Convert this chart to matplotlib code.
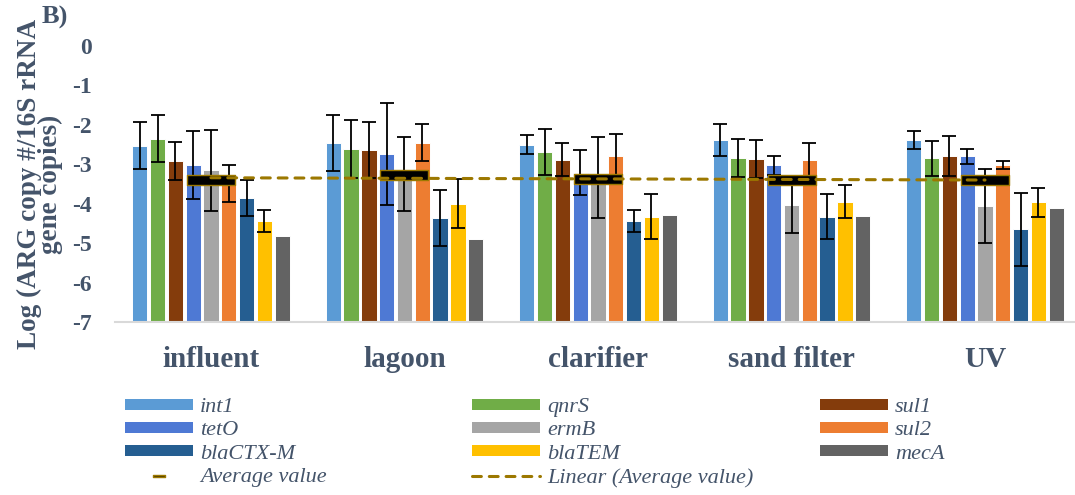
import numpy as np
import matplotlib
matplotlib.use("Agg")
import matplotlib.pyplot as plt
from matplotlib.path import Path
from matplotlib.patches import Patch
from matplotlib.lines import Line2D

plt.rcParams['font.family'] = ['Liberation Serif', 'DejaVu Serif']
plt.rcParams['axes.unicode_minus'] = False

sites = ['influent', 'lagoon', 'clarifier', 'sand filter', 'UV']
genes = ['int1', 'qnrS', 'sul1', 'tetO', 'ermB', 'sul2', 'blaCTX-M', 'blaTEM', 'mecA']

# log10 abundance per site, one list per gene
int1 = [-2.53, -2.46, -2.50, -2.38, -2.38]
qnrS = [-2.35, -2.61, -2.69, -2.84, -2.85]
sul1 = [-2.92, -2.64, -2.88, -2.87, -2.79]
tetO = [-3.02, -2.74, -3.21, -3.03, -2.80]
ermB = [-3.15, -3.25, -3.33, -4.04, -4.06]
sul2 = [-3.49, -2.45, -2.79, -2.88, -3.01]
blaCTXM = [-3.85, -4.36, -4.44, -4.33, -4.65]
blaTEM = [-4.44, -4.00, -4.33, -3.95, -3.96]
mecA = [-4.82, -4.90, -4.28, -4.30, -4.11]

# standard deviations (mecA has none)
int1_err = [0.59, 0.70, 0.25, 0.41, 0.23]
qnrS_err = [0.60, 0.73, 0.59, 0.47, 0.44]
sul1_err = [0.49, 0.72, 0.42, 0.48, 0.50]
tetO_err = [0.87, 1.29, 0.58, 0.25, 0.20]
ermB_err = [1.03, 0.93, 1.03, 0.71, 0.93]
sul2_err = [0.46, 0.46, 0.56, 0.42, 0.10]
blaCTXM_err = [0.45, 0.71, 0.29, 0.57, 0.92]
blaTEM_err = [0.29, 0.62, 0.57, 0.42, 0.37]

values = [int1, qnrS, sul1, tetO, ermB, sul2, blaCTXM, blaTEM, mecA]
errors = [int1_err, qnrS_err, sul1_err, tetO_err, ermB_err, sul2_err,
          blaCTXM_err, blaTEM_err, None]
colors = ['#5B9BD5', '#70AD47', '#843C0C', '#4E79D4', '#A5A5A5',
          '#ED7D31', '#255E91', '#FFC000', '#636363']

text_col = '#44546A'
gold = '#9C7800'
base = -7

fig = plt.figure(figsize=(10.75, 4.95), dpi=100)
ax = fig.add_axes([115 / 1075, 1 - 322 / 495, 960 / 1075, 276 / 495])

x = np.arange(len(sites))
step = 0.092
width = 0.079
for i, (vals, err, c) in enumerate(zip(values, errors, colors)):
    pos = x + (i - 4) * step
    vals = np.array(vals)
    ax.bar(pos, vals - base, width, bottom=base, color=c,
           edgecolor='white', linewidth=0.7, zorder=2)
    if err is not None:
        ax.errorbar(pos, vals, yerr=err, fmt='none', ecolor='black',
                    elinewidth=1.3, capsize=5, capthick=1.3, zorder=3)

# site averages and their linear trend
avg = np.mean(np.array(values), axis=0)
rect = Path([(-2.5, -0.5), (2.5, -0.5), (2.5, 0.5), (-2.5, 0.5), (-2.5, -0.5)],
            [Path.MOVETO, Path.LINETO, Path.LINETO, Path.LINETO, Path.CLOSEPOLY])
ax.plot(x, avg, ls='none', marker=rect, ms=35, mfc='black', mec=gold,
        mew=1.0, zorder=4)
k, b = np.polyfit(x + 1, avg, 1)
dash = (0, (2.9, 2.6))
ax.plot(x, k * (x + 1) + b, color=gold, lw=2.2, ls=dash,
        dash_capstyle='round', zorder=5)

ax.set_xlim(-0.496, 4.465)
ax.set_ylim(-7, 0)
ax.set_yticks(range(-7, 1))
ax.set_xticks(x)
ax.set_xticklabels(sites, fontsize=21, fontweight='bold', color=text_col)
ax.tick_params(axis='x', length=0, pad=17)
ax.tick_params(axis='y', length=0, pad=17, labelsize=17, labelcolor=text_col)
for lab in ax.get_yticklabels():
    lab.set_fontweight('bold')
for s in ['top', 'right', 'left']:
    ax.spines[s].set_visible(False)
ax.spines['bottom'].set_color('#D9D9D9')
ax.spines['bottom'].set_linewidth(1.5)

fig.text(40 / 1075, 1 - 184 / 495, 'Log (ARG copy #/16S rRNA\ngene copies)',
         rotation=90, ha='center', va='center', multialignment='center',
         fontsize=19.5, fontweight='bold', color=text_col, linespacing=0.8)
fig.text(55 / 1075, 1 - 17 / 495, 'B)', ha='center', va='center',
         fontsize=19, fontweight='bold', color=text_col)

# legend in three columns
patches = [Patch(facecolor=c, edgecolor='none') for c in colors]
avg_handle = Line2D([], [], ls='none', marker=rect, ms=8, mfc='#3A2E00',
                    mec=gold, mew=1.0)
trend_handle = Line2D([], [], color=gold, lw=2.2, ls=dash,
                      dash_capstyle='round')
columns = [
    ([patches[0], patches[3], patches[6], avg_handle],
     ['int1', 'tetO', 'blaCTX-M', 'Average value'], 125),
    ([patches[1], patches[4], patches[7], trend_handle],
     ['qnrS', 'ermB', 'blaTEM', 'Linear (Average value)'], 472),
    ([patches[2], patches[5], patches[8]],
     ['sul1', 'sul2', 'mecA'], 820),
]
for handles, labels, left in columns:
    leg = fig.legend(handles, labels, loc='upper left',
                     bbox_to_anchor=(left / 1075, 1 - 398 / 495),
                     frameon=False, borderpad=0, borderaxespad=0,
                     handlelength=3.07, handleheight=0.38, handletextpad=0.31,
                     labelspacing=0.2,
                     prop={'family': 'Liberation Serif', 'style': 'italic',
                           'size': 16})
    for t in leg.get_texts():
        t.set_color(text_col)

fig.savefig('out.png', dpi=100)
